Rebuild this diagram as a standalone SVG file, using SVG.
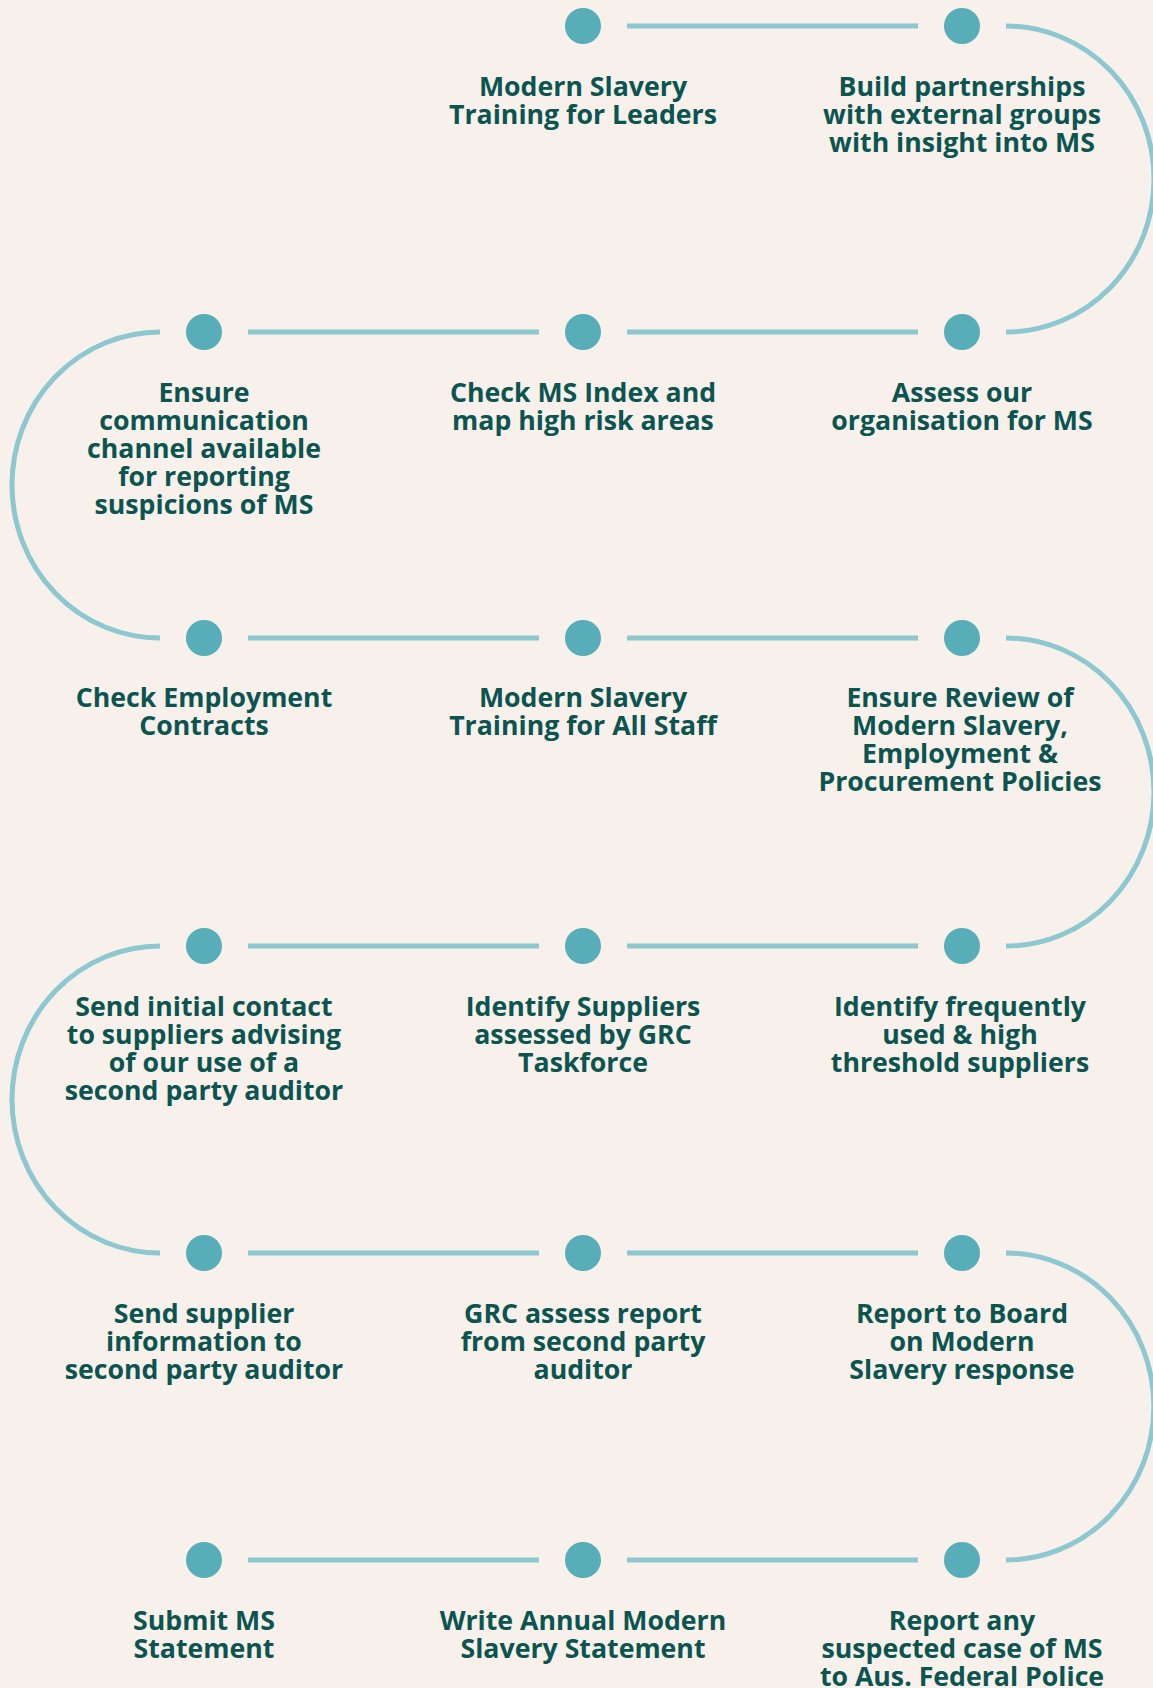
<svg xmlns="http://www.w3.org/2000/svg" width="1153" height="1688" viewBox="0 0 1153 1688">
<style>
.bg{fill:#f7f0eb}
.dot{fill:#57adb8}
.ln{stroke:#8dc8d1;stroke-width:5;fill:none}
.t{font-family:"Open Sans","Noto Sans","Liberation Sans",sans-serif;font-weight:700;font-size:26.7px;fill:#0c5450;text-anchor:middle}
</style>
<rect class="bg" x="0" y="0" width="1153" height="1688"/>
<g id="connectors">
<line class="ln" x1="627" y1="26" x2="918" y2="26"/>
<path class="ln" d="M1006,26 A148,153 0 0 1 1006,332"/>
<line class="ln" x1="248" y1="332" x2="539" y2="332"/>
<line class="ln" x1="627" y1="332" x2="918" y2="332"/>
<path class="ln" d="M160,332 A148,153 0 0 0 160,638"/>
<line class="ln" x1="248" y1="638" x2="539" y2="638"/>
<line class="ln" x1="627" y1="638" x2="918" y2="638"/>
<path class="ln" d="M1006,638 A148,154 0 0 1 1006,946"/>
<line class="ln" x1="248" y1="946" x2="539" y2="946"/>
<line class="ln" x1="627" y1="946" x2="918" y2="946"/>
<path class="ln" d="M160,946 A148,153.5 0 0 0 160,1253"/>
<line class="ln" x1="248" y1="1253" x2="539" y2="1253"/>
<line class="ln" x1="627" y1="1253" x2="918" y2="1253"/>
<path class="ln" d="M1006,1253 A148,153.5 0 0 1 1006,1560"/>
<line class="ln" x1="248" y1="1560" x2="539" y2="1560"/>
<line class="ln" x1="627" y1="1560" x2="918" y2="1560"/>
</g>
<g id="n1"><circle class="dot" cx="583" cy="26" r="18"/><text class="t" x="583" y="96"><tspan x="583">Modern Slavery</tspan><tspan x="583" dy="28">Training for Leaders</tspan></text></g>
<g id="n2"><circle class="dot" cx="962" cy="26" r="18"/><text class="t" x="962" y="96"><tspan x="962">Build partnerships</tspan><tspan x="962" dy="28">with external groups</tspan><tspan x="962" dy="28">with insight into MS</tspan></text></g>
<g id="n3"><circle class="dot" cx="962" cy="332" r="18"/><text class="t" x="962" y="402"><tspan x="962">Assess our</tspan><tspan x="962" dy="28">organisation for MS</tspan></text></g>
<g id="n4"><circle class="dot" cx="583" cy="332" r="18"/><text class="t" x="583" y="402"><tspan x="583">Check MS Index and</tspan><tspan x="583" dy="28">map high risk areas</tspan></text></g>
<g id="n5"><circle class="dot" cx="204" cy="332" r="18"/><text class="t" x="204" y="402"><tspan x="204">Ensure</tspan><tspan x="204" dy="28">communication</tspan><tspan x="204" dy="28">channel available</tspan><tspan x="204" dy="28">for reporting</tspan><tspan x="204" dy="28">suspicions of MS</tspan></text></g>
<g id="n6"><circle class="dot" cx="204" cy="638" r="18"/><text class="t" x="204" y="707"><tspan x="204">Check Employment</tspan><tspan x="204" dy="28">Contracts</tspan></text></g>
<g id="n7"><circle class="dot" cx="583" cy="638" r="18"/><text class="t" x="583" y="707"><tspan x="583">Modern Slavery</tspan><tspan x="583" dy="28">Training for All Staff</tspan></text></g>
<g id="n8"><circle class="dot" cx="962" cy="638" r="18"/><text class="t" x="960" y="707"><tspan x="960">Ensure Review of</tspan><tspan x="960" dy="28">Modern Slavery,</tspan><tspan x="960" dy="28">Employment &amp;</tspan><tspan x="960" dy="28">Procurement Policies</tspan></text></g>
<g id="n9"><circle class="dot" cx="962" cy="946" r="18"/><text class="t" x="960" y="1016"><tspan x="960">Identify frequently</tspan><tspan x="960" dy="28">used &amp; high</tspan><tspan x="960" dy="28">threshold suppliers</tspan></text></g>
<g id="n10"><circle class="dot" cx="583" cy="946" r="18"/><text class="t" x="583" y="1016"><tspan x="583">Identify Suppliers</tspan><tspan x="583" dy="28">assessed by GRC</tspan><tspan x="583" dy="28">Taskforce</tspan></text></g>
<g id="n11"><circle class="dot" cx="204" cy="946" r="18"/><text class="t" x="204" y="1016"><tspan x="204">Send initial contact</tspan><tspan x="204" dy="28">to suppliers advising</tspan><tspan x="204" dy="28">of our use of a</tspan><tspan x="204" dy="28">second party auditor</tspan></text></g>
<g id="n12"><circle class="dot" cx="204" cy="1253" r="18"/><text class="t" x="204" y="1323"><tspan x="204">Send supplier</tspan><tspan x="204" dy="28">information to</tspan><tspan x="204" dy="28">second party auditor</tspan></text></g>
<g id="n13"><circle class="dot" cx="583" cy="1253" r="18"/><text class="t" x="583" y="1323"><tspan x="583">GRC assess report</tspan><tspan x="583" dy="28">from second party</tspan><tspan x="583" dy="28">auditor</tspan></text></g>
<g id="n14"><circle class="dot" cx="962" cy="1253" r="18"/><text class="t" x="962" y="1323"><tspan x="962">Report to Board</tspan><tspan x="962" dy="28">on Modern</tspan><tspan x="962" dy="28">Slavery response</tspan></text></g>
<g id="n15"><circle class="dot" cx="962" cy="1560" r="18"/><text class="t" x="962" y="1630"><tspan x="962">Report any</tspan><tspan x="962" dy="28">suspected case of MS</tspan><tspan x="962" dy="28">to Aus. Federal Police</tspan></text></g>
<g id="n16"><circle class="dot" cx="583" cy="1560" r="18"/><text class="t" x="583" y="1630"><tspan x="583">Write Annual Modern</tspan><tspan x="583" dy="28">Slavery Statement</tspan></text></g>
<g id="n17"><circle class="dot" cx="204" cy="1560" r="18"/><text class="t" x="204" y="1630"><tspan x="204">Submit MS</tspan><tspan x="204" dy="28">Statement</tspan></text></g>
</svg>
